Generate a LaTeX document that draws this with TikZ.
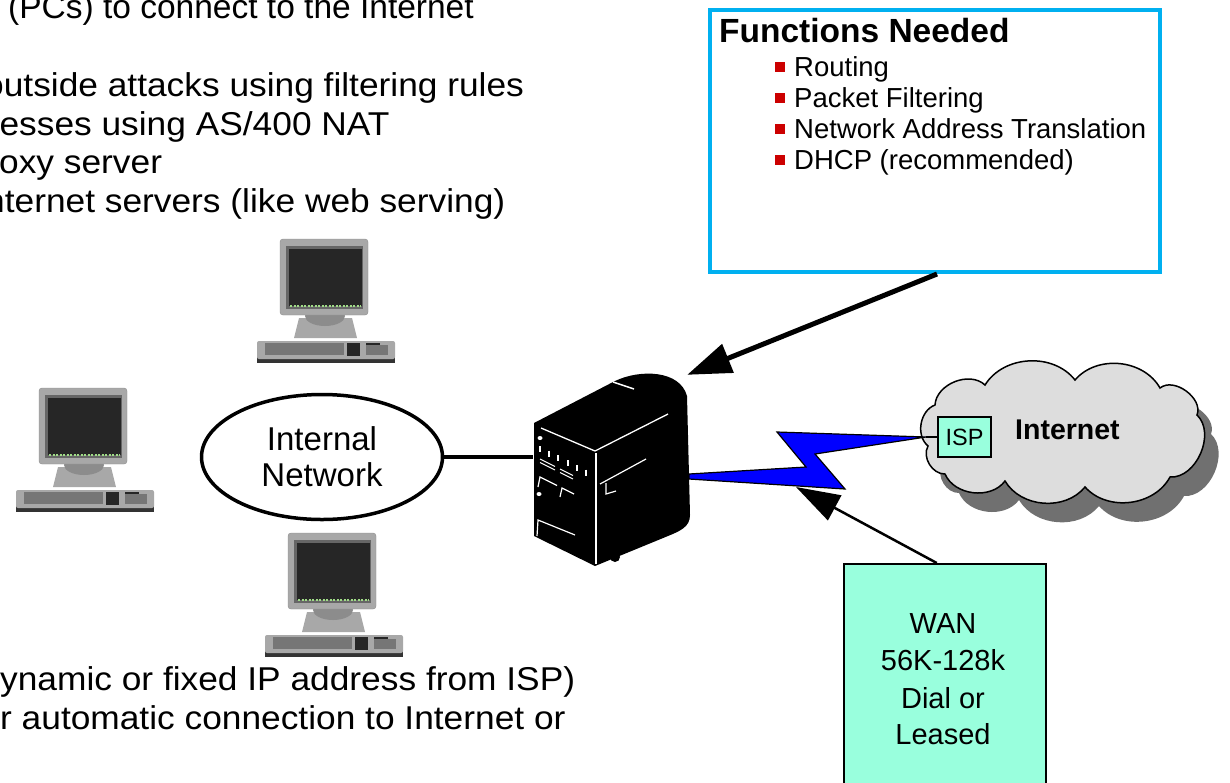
\documentclass[tikz,border=0pt]{standalone}
\usepackage{fontspec}
\setmainfont{Liberation Sans}
\newfontfamily\widefont[FakeStretch=1.07]{Liberation Sans}
\usetikzlibrary{shapes.geometric, positioning, arrows.meta, calc}

\definecolor{boxblue}{RGB}{0,176,240}
\definecolor{aqua}{RGB}{153,255,221}
\definecolor{bulred}{RGB}{204,0,0}
\definecolor{cloudgray}{RGB}{221,221,221}
\definecolor{shadowgray}{RGB}{112,112,112}
\definecolor{boltblue}{RGB}{0,0,255}
\definecolor{pcgray}{RGB}{168,168,168}
\definecolor{keygray}{RGB}{118,118,118}
\definecolor{neckgray}{RGB}{140,140,140}
\definecolor{scr}{RGB}{38,38,38}
\definecolor{ledgreen}{RGB}{160,220,135}

\begin{document}
\begin{tikzpicture}[
    x=1pt, y=-1pt,
    txt/.style={anchor=base west, inner sep=0pt, font=\widefont\fontsize{33}{39}\selectfont},
    item/.style={anchor=base west, inner sep=0pt, font=\fontsize{27.5}{31}\selectfont},
    wantxt/.style={anchor=base, inner sep=0pt, font=\fontsize{29}{37}\selectfont},
    aqbox/.style={draw, line width=1.5pt, fill=aqua, inner sep=0pt},
    fatarrow/.style={line width=5pt, -{Triangle[length=44pt,width=30pt]}},
    thinarrow/.style={line width=2.5pt, -{Triangle[length=44pt,width=28pt]}},
    cshadow/.style={fill=shadowgray, shift={(14,19)}},
    cbody/.style={draw, line width=1.5pt, fill=cloudgray},
    pc/.pic={
        % keyboard
        \fill[black!80] (-23,106) rectangle (115,124);
        \fill[pcgray, rounded corners=2pt] (-23,102) rectangle (115,120);
        \fill[keygray] (-15,104) rectangle (64,116);
        \fill[black!85] (67,104) rectangle (80,117);
        \fill[keygray] (86,106) rectangle (108,116);
        \fill[black!85] (86,103.5) rectangle (100,105.5);
        % stand
        \fill[pcgray] (19,79) -- (72,79) -- (77,99) -- (14,99) -- cycle;
        \fill[neckgray] (45,77) ellipse [x radius=20, y radius=10];
        % monitor
        \filldraw[fill=pcgray, draw=black!45, rounded corners=3pt] (0,0) rectangle (88,76);
        \fill[black!60] (6,7) rectangle (83,70);
        \fill[scr] (9,10) rectangle (82,67);
        \draw[ledgreen, line width=1.5pt, dash pattern=on 2pt off 1.5pt] (10,67) -- (81,67);
    }
]
    \useasboundingbox (0,0) rectangle (1230,782);
    \clip (0,0) rectangle (1230,782);

    % text on the left
    \node[txt, font=\fontsize{33.5}{39}\selectfont] (t1) at (8,18) {(PCs) to connect to the Internet};
    \node[txt] (t2) at (-16,96) {outside attacks using filtering rules};
    \node[txt] (t3) at (-0.6,135) {esses using AS/400 NAT};
    \node[txt] (t4) at (-1,173) {oxy server};
    \node[txt] (t5) at (-15,212) {nternet servers (like web serving)};
    \node[txt] (t6) at (0,690) {ynamic or fixed IP address from ISP)};
    \node[txt] (t7) at (0,729) {r automatic connection to Internet or};

    % functions box
    \node[draw=boxblue, line width=4pt, minimum width=450, minimum height=262, inner sep=0pt] (func) at (935,141) {};
    \node[anchor=base west, inner sep=0pt, font=\fontsize{33.5}{39}\selectfont\bfseries] (fhead) at (719,42) {Functions Needed};
    \foreach \t [count=\i] in {Routing, Packet Filtering, Network Address Translation, DHCP (recommended)} {
        \pgfmathsetmacro\y{45+31*\i}
        \fill[bulred] (775,\y-14) rectangle ++(10,10);
        \node[item] (f\i) at (794,\y) {\t};
    }

    % PCs
    \pic at (280,239) {pc};
    \pic at (39,388) {pc};
    \pic at (288,533) {pc};

    % internal network
    \node[draw, ellipse, line width=3.5pt, minimum width=241, minimum height=125, align=center,
          font=\fontsize{33}{36}\selectfont] (net) at (322,457) {Internal\\Network};

    % AS/400
    \node[minimum width=157, minimum height=194, inner sep=0pt] (srv) at (611.5,469) {};
    \fill (534,423) -- (615,381) .. controls (640,369) and (680,370) .. (687,396)
        -- (690,515) .. controls (690,527) and (680,531) .. (668,536)
        -- (595,566) -- (534,536) -- cycle;
    \fill (661,533) circle (5pt) (615,557) circle (5pt);
    \draw[white, line width=1.3pt] (541,428) -- (595,451) -- (668,414);
    \draw[white, line width=2pt] (596,453) -- (596,564);
    \draw[white, line width=1.5pt] (613,382) -- (634,389);
    \draw[white, line width=1.2pt] (600,484) -- (646,459) (606,483) -- (606,494) -- (616,491);
    \fill[white] (540,438) ellipse [x radius=2.5, y radius=2] (539,494) ellipse [x radius=2.5, y radius=2];
    \foreach \x in {0,...,5}
        \draw[white, line width=2pt] (540+9.2*\x,446+4.7*\x) -- ++(0,6);
    \draw[white, line width=1pt] (540,459) -- (555,466.5) (540,462.5) -- (555,470)
        (560,469) -- (573,475.5) (560,472.5) -- (573,479);
    \draw[white, line width=1.2pt] (538,487) -- (540,477) -- (557,485.5)
        (560,497) -- (562,488) -- (574,494);
    \draw[white, line width=1.2pt] (537,536) -- (538,520) -- (575,535);

    \draw[line width=3.5pt] (net.east) -- (net.east -| srv.west);

    % internet cloud, shadow first
    \foreach \s in {cshadow, cbody}
        \path[\s] (928,446) to[bend left=60] (935,405) to[bend left=65] (985,385)
            to[bend left=55] (1075,380) to[bend left=55] (1160,388) to[bend left=75] (1197,415)
            to[bend left=70] (1170,477) to[bend left=55] (1085,487) to[bend left=55] (1005,481)
            to[bend left=60] (945,474) to[bend left=60] cycle;
    \node[anchor=base west, inner sep=0pt, font=\fontsize{28.5}{32}\selectfont\bfseries] (inettxt) at (1015,439) {Internet};
    \node[aqbox, minimum width=53, minimum height=40, font=\fontsize{23.5}{26}\selectfont] (isp) at (964.5,437) {ISP};

    % WAN link
    \coordinate (tip) at (926,437);
    \filldraw[fill=boltblue, line width=1.2pt, line join=miter] (689,474) -- (806,467) -- (777,432) -- (tip)
        -- (815,454) -- (845,489) -- (689,479) -- cycle;
    \draw[line width=1.5pt] (tip) -- (isp.west);

    \node[aqbox, minimum width=202, minimum height=240, anchor=north west] (wan) at (843,563) {};
    \foreach \t/\y in {WAN/633, 56K-128k/670, Dial or/708, Leased/744}
        \node[wantxt] at (943,\y) {\t};

    % arrows
    \coordinate (hit) at (796,487);
    \draw[fatarrow] ([xshift=2pt]func.south) -- ([shift={(-3,3)}]srv.north east);
    \draw[thinarrow] ([xshift=-8pt]wan.north) -- (hit);
\end{tikzpicture}
\end{document}
